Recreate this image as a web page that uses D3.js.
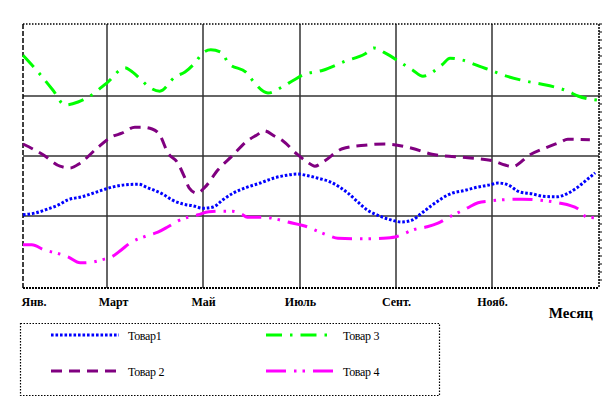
<!DOCTYPE html>
<html>
<head>
<meta charset="utf-8">
<script src="https://cdn.jsdelivr.net/npm/d3@7"></script>
<style>
  html, body { margin: 0; padding: 0; background: #fff; }
  svg { display: block; }
  svg text { font-family: "Liberation Serif", "DejaVu Serif", "Times New Roman", serif !important; fill: #000; }
</style>
</head>
<body>
<svg id="chart" width="614" height="399"></svg>
<script>
// ---- data (x = month index from January, y = value) ----
const monthTicks = [0, 2, 4, 6, 8, 10];
const monthLabels = ["Янв.", "Март", "Май", "Июль", "Сент.", "Нояб."];
const yGrid = [0, 1, 2];
const seriesNames = ["Товар1", "Товар 2", "Товар 3", "Товар 4"];

const tovar1 = [[0,0.02],[0.29,0.05],[0.6,0.12],[0.83,0.18],[1.07,0.27],[1.40,0.32],[1.67,0.38],[1.88,0.43],[2.1,0.48],[2.375,0.52],[2.65,0.53],[2.85,0.47],[3.15,0.37],[3.35,0.27],[3.58,0.2],[3.79,0.17],[4.0,0.13],[4.21,0.15],[4.41,0.27],[4.62,0.38],[4.91,0.48],[5.18,0.55],[5.45,0.63],[5.73,0.68],[5.94,0.7],[6.17,0.67],[6.375,0.63],[6.625,0.57],[6.83,0.48],[7.0,0.38],[7.21,0.23],[7.4,0.1],[7.6,0.02],[7.83,-0.05],[8.125,-0.1],[8.33,-0.07],[8.54,0.05],[8.75,0.18],[9.17,0.38],[9.4,0.42],[9.69,0.48],[9.96,0.52],[10.125,0.55],[10.33,0.52],[10.58,0.4],[10.83,0.37],[11.06,0.33],[11.35,0.32],[11.56,0.37],[11.77,0.47],[11.94,0.58],[12.15,0.72]];

const tovar2 = [[0,1.2],[0.48,1.02],[0.88,0.83],[1.12,0.8],[1.36,0.88],[1.76,1.13],[2.10,1.32],[2.31,1.38],[2.58,1.48],[2.73,1.48],[2.94,1.45],[3.10,1.35],[3.27,1.05],[3.46,0.9],[3.625,0.63],[3.71,0.47],[3.875,0.38],[4.04,0.48],[4.31,0.77],[4.60,1.0],[4.91,1.25],[5.11,1.35],[5.26,1.42],[5.48,1.33],[5.65,1.25],[5.94,1.03],[6.15,0.9],[6.31,0.83],[6.48,0.9],[6.88,1.12],[7.35,1.18],[7.77,1.2],[8.33,1.13],[8.75,1.03],[9.5,0.97],[10.02,0.92],[10.27,0.85],[10.42,0.82],[10.79,1.02],[11.1,1.13],[11.42,1.23],[11.58,1.28],[12.04,1.27]];

const tovar3 = [[0,2.68],[0.36,2.4],[0.71,2.1],[1.0,1.85],[1.31,1.9],[1.55,1.98],[2.0,2.22],[2.375,2.47],[2.48,2.43],[2.71,2.27],[2.875,2.15],[3.1,2.08],[3.42,2.32],[3.625,2.4],[3.83,2.55],[4.0,2.72],[4.16,2.77],[4.39,2.72],[4.52,2.55],[4.91,2.38],[5.05,2.23],[5.34,2.05],[5.63,2.15],[5.84,2.25],[6.06,2.35],[6.48,2.43],[6.94,2.58],[7.35,2.7],[7.54,2.8],[7.77,2.72],[8.15,2.53],[8.35,2.43],[8.56,2.33],[8.96,2.52],[9.125,2.63],[9.375,2.6],[9.79,2.48],[10,2.42],[10.23,2.35],[10.69,2.25],[11.15,2.18],[11.58,2.08],[11.79,2.0],[12.21,1.93]];

const tovar4 = [[0,-0.48],[0.21,-0.48],[0.52,-0.57],[0.81,-0.62],[1.07,-0.68],[1.36,-0.78],[1.64,-0.77],[1.88,-0.73],[2.1,-0.68],[2.29,-0.57],[2.48,-0.45],[2.83,-0.33],[3.06,-0.27],[3.27,-0.18],[3.48,-0.08],[3.9,0.02],[4.12,0.07],[4.39,0.08],[4.6,0.08],[4.8,0.03],[4.91,-0.02],[5.26,-0.02],[5.5,-0.05],[5.75,-0.1],[6.15,-0.18],[6.35,-0.25],[6.58,-0.32],[6.79,-0.37],[7.25,-0.38],[7.73,-0.37],[7.98,-0.35],[8.4,-0.22],[8.65,-0.18],[8.875,-0.12],[9.08,-0.03],[9.48,0.13],[9.71,0.22],[9.96,0.25],[10.21,0.27],[10.625,0.28],[10.9,0.27],[11.15,0.25],[11.375,0.22],[11.79,0.12],[11.98,-0.02],[12.23,-0.03]];

// ---- styles ----
const styles = [
  { data: tovar1, color: "#0000ff", dash: "2.6,1.9", width: 3 },
  { data: tovar2, color: "#800080", dash: "11,7", width: 3 },
  { data: tovar3, color: "#00ff00", dash: "16,8,2.5,8", width: 3 },
  { data: tovar4, color: "#ff00ff", dash: "20,8,2.5,6,2.5,8", width: 3 }
];

const FONT = "'Liberation Serif', 'DejaVu Serif', 'Times New Roman', serif";
const svg = d3.select("#chart");
const L = 23, R = 599, T = 24, B = 288;

const x = d3.scaleLinear()
  .domain([0, 2, 4, 6, 8, 10, 12.23])
  .range([L, 107, 203, 300, 396, 492, R]);
const y = d3.scaleLinear().domain([-1.2, 3.2]).range([B, T]);

// grid: vertical
svg.append("g").selectAll("line").data(monthTicks.slice(1)).join("line")
  .attr("x1", d => x(d)).attr("x2", d => x(d))
  .attr("y1", T).attr("y2", B)
  .attr("stroke", "#666").attr("stroke-width", 2);
// grid: horizontal
svg.append("g").selectAll("line").data(yGrid).join("line")
  .attr("x1", L).attr("x2", R)
  .attr("y1", d => y(d)).attr("y2", d => y(d))
  .attr("stroke", "#333").attr("stroke-width", 1.6);

// borders
svg.append("line").attr("x1", L).attr("x2", R).attr("y1", T).attr("y2", T)
  .attr("stroke", "#000").attr("stroke-width", 1.5).attr("stroke-dasharray", "1.5,1.5");
svg.append("line").attr("x1", L).attr("x2", R).attr("y1", B).attr("y2", B)
  .attr("stroke", "#000").attr("stroke-width", 2).attr("stroke-dasharray", "2,1");
svg.append("line").attr("x1", L).attr("x2", L).attr("y1", T).attr("y2", B)
  .attr("stroke", "#000").attr("stroke-width", 1.5).attr("stroke-dasharray", "5,2");
svg.append("line").attr("x1", R).attr("x2", R).attr("y1", T).attr("y2", B)
  .attr("stroke", "#000").attr("stroke-width", 1.5).attr("stroke-dasharray", "2,1");
// right-side tick marks
const rightTicks = d3.range(T, B, 8);
svg.append("g").selectAll("line").data(rightTicks).join("line")
  .attr("x1", R).attr("x2", R + 3)
  .attr("y1", d => d).attr("y2", d => d)
  .attr("stroke", "#000").attr("stroke-width", 1);

// lines
const line = d3.line().x(d => x(d[0])).y(d => y(d[1])).curve(d3.curveMonotoneX);
svg.append("g").selectAll("path").data(styles).join("path")
  .attr("d", d => line(d.data))
  .attr("fill", "none")
  .attr("stroke", d => d.color)
  .attr("stroke-width", d => d.width)
  .attr("stroke-dasharray", d => d.dash);

// x axis labels
const xAxis = d3.axisBottom(x).tickValues(monthTicks)
  .tickFormat((d, i) => monthLabels[i]).tickSize(0).tickPadding(0);
const gx = svg.append("g").attr("transform", `translate(0,${B})`).call(xAxis)
  .attr("font-family", FONT);
gx.select(".domain").remove();
gx.selectAll("text")
  .attr("dy", null).attr("y", 18)
  .attr("font-family", FONT)
  .attr("font-weight", "bold").attr("font-size", 12)
  .attr("fill", "#000")
  .attr("text-anchor", (d, i) => i === 0 ? "start" : "middle")
  .attr("dx", (d, i) => i === 0 ? -2 : (i === 1 ? 6 : 0));

svg.append("text").attr("x", 593).attr("y", 318)
  .attr("text-anchor", "end")
  .attr("font-family", FONT)
  .attr("font-weight", "bold").attr("font-size", 15)
  .text("Месяц");

// legend
svg.append("rect").attr("x", 20.5).attr("y", 323.5).attr("width", 419).attr("height", 72)
  .attr("fill", "none").attr("stroke", "#000").attr("stroke-width", 1.2)
  .attr("stroke-dasharray", "1.5,1.5");

const legendPos = [
  { lx: 51, ly: 335 }, { lx: 51, ly: 371 }, { lx: 266, ly: 335 }, { lx: 266, ly: 371 }
];
const lg = svg.append("g").selectAll("g").data(styles).join("g");
lg.append("line")
  .attr("x1", (d, i) => legendPos[i].lx).attr("x2", (d, i) => legendPos[i].lx + 68)
  .attr("y1", (d, i) => legendPos[i].ly).attr("y2", (d, i) => legendPos[i].ly)
  .attr("stroke", d => d.color).attr("stroke-width", 3)
  .attr("stroke-dasharray", d => d.dash);
lg.append("text")
  .attr("x", (d, i) => legendPos[i].lx + 77)
  .attr("y", (d, i) => legendPos[i].ly + 5)
  .attr("font-family", FONT)
  .attr("font-size", 12)
  .style("letter-spacing", "-0.3px")
  .text((d, i) => seriesNames[i]);
</script>
</body>
</html>
